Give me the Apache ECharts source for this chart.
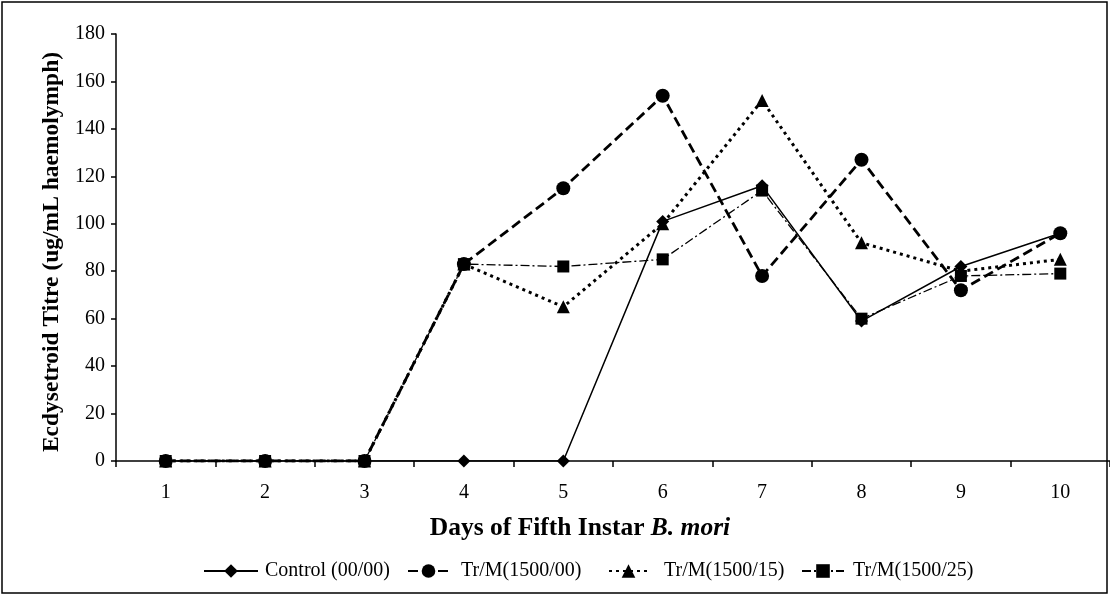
<!DOCTYPE html>
<html>
<head>
<meta charset="utf-8">
<script src="https://cdn.jsdelivr.net/npm/echarts@6/dist/echarts.min.js"></script>
<style>
html,body{margin:0;padding:0;background:#fff;}
#c{width:1110px;height:596px;}
</style>
</head>
<body>
<div id="c"></div>
<script>
const days = ['1','2','3','4','5','6','7','8','9','10'];
const seriesNames = ['Control (00/00)','Tr/M(1500/00)','Tr/M(1500/15)','Tr/M(1500/25)'];
const control  = [0,0,0,0,0,101,116,59,82,96];
const tr1500_00 = [0,0,0,83,115,154,78,127,72,96];
const tr1500_15 = [0,0,0,83,65,100,152,92,80,85];
const tr1500_25 = [0,0,0,83,82,85,114,60,78,79];
const yTicks = [0,20,40,60,80,100,120,140,160,180];
const yTitle = 'Ecdysetroid Titre (ug/mL haemolymph)';

const FONT = '"Liberation Serif","DejaVu Serif",serif';
const chart = echarts.init(document.getElementById('c'), null, {renderer:'canvas'});

function leg(name, left, w, padLeft){
  return {
    data:[name], left:left, top:561, orient:'horizontal',
    itemWidth:w, itemHeight:17, itemGap:0, padding:0,
    selectedMode:false,
    textStyle:{fontFamily:FONT,fontSize:20,color:'#000',padding:[0,0,0,padLeft]}
  };
}

const option = {
  animation:false,
  backgroundColor:'#fff',
  textStyle:{fontFamily:FONT,color:'#000'},
  grid:{left:116,top:34,width:1000,height:427,containLabel:false},
  legend:[
    leg(seriesNames[0],203,54,2),
    leg(seriesNames[1],407,41,7),
    leg(seriesNames[2],608,39,11),
    leg(seriesNames[3],801,42,4)
  ],
  xAxis:{
    type:'category', data:days, boundaryGap:true,
    axisLine:{lineStyle:{color:'#000',width:1.5}},
    axisTick:{show:true,length:6,inside:false,lineStyle:{color:'#000',width:1.5}},
    axisLabel:{fontFamily:FONT,fontSize:20,color:'#000',margin:22}
  },
  yAxis:{
    type:'value', min:yTicks[0], max:yTicks[yTicks.length-1], interval:20,
    axisLine:{show:true,lineStyle:{color:'#000',width:1.5}},
    axisTick:{show:true,length:5,inside:false,lineStyle:{color:'#000',width:1.5}},
    axisLabel:{fontFamily:FONT,fontSize:20,color:'#000',margin:11},
    splitLine:{show:false}
  },
  graphic:[
    {type:'rect',shape:{x:2,y:2,width:1105,height:591},style:{fill:null,stroke:'#000',lineWidth:1.5},silent:true},
    {type:'text',x:52,y:252,rotation:Math.PI/2,style:{
      text:yTitle,align:'center',verticalAlign:'middle',
      fontFamily:FONT,fontSize:23.5,fontWeight:'bold',fill:'#000'
    }},
    {type:'text',x:580,y:528,style:{
      text:'{b|Days of Fifth Instar }{i|B. mori}',
      align:'center',verticalAlign:'middle',
      rich:{
        b:{fontFamily:FONT,fontSize:25.5,fontWeight:'bold',fill:'#000'},
        i:{fontFamily:FONT,fontSize:25.5,fontWeight:'bold',fontStyle:'italic',fill:'#000'}
      }
    }}
  ],
  series:[
    {name:seriesNames[0],type:'line',data:control,symbol:'diamond',symbolSize:13,
     lineStyle:{color:'#000',width:1.5,type:'solid'},itemStyle:{color:'#000'},z:4},
    {name:seriesNames[1],type:'line',data:tr1500_00,symbol:'circle',symbolSize:14,
     lineStyle:{color:'#000',width:2.8,type:[10,5]},itemStyle:{color:'#000'},z:3},
    {name:seriesNames[2],type:'line',data:tr1500_15,symbol:'triangle',symbolSize:13,
     lineStyle:{color:'#000',width:3,type:[3,4],cap:'butt'},itemStyle:{color:'#000'},z:2},
    {name:seriesNames[3],type:'line',data:tr1500_25,symbol:'rect',symbolSize:12,
     lineStyle:{color:'#000',width:1.3,type:[9,3,2,3]},itemStyle:{color:'#000'},z:5}
  ]
};
chart.setOption(option);
</script>
</body>
</html>
